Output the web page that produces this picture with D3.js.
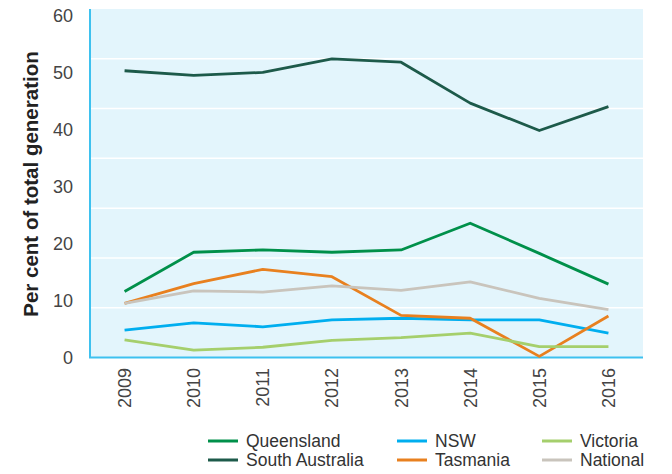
<!DOCTYPE html>
<html>
<head>
<meta charset="utf-8">
<script src="https://cdn.jsdelivr.net/npm/d3@7"></script>
<style>
  body { margin: 0; background: #fff; }
  svg text { font-family: "Liberation Sans", Arial, sans-serif; }
</style>
</head>
<body>
<main></main>
<script>
const years = ["2009", "2010", "2011", "2012", "2013", "2014", "2015", "2016"];
const yTicks = [0, 10, 20, 30, 40, 50, 60];

const queensland = [11.6, 18.5, 18.9, 18.5, 18.9, 23.6, 18.3, 12.9];
const southAustralia = [50.4, 49.6, 50.1, 52.5, 51.9, 44.7, 39.9, 44.1];
const nsw = [4.8, 6.1, 5.4, 6.6, 6.9, 6.6, 6.6, 4.3];
const tasmania = [9.5, 13.0, 15.5, 14.2, 7.4, 6.9, 0.2, 7.3];
const victoria = [3.1, 1.3, 1.8, 3.0, 3.5, 4.3, 1.9, 1.9];
const national = [9.5, 11.7, 11.5, 12.6, 11.8, 13.3, 10.4, 8.4];

const series = [
    { name: "Queensland", values: queensland, color: "#00904a" },
    { name: "South Australia", values: southAustralia, color: "#1d5a4a" },
    { name: "NSW", values: nsw, color: "#00aeef" },
    { name: "Tasmania", values: tasmania, color: "#e8801f" },
    { name: "Victoria", values: victoria, color: "#a5cf6c" },
    { name: "National", values: national, color: "#c9c4bc" }
];

// legend order, row by row
const legendOrder = ["Queensland", "NSW", "Victoria", "South Australia", "Tasmania", "National"];

const width = 672;
const height = 474;
const plotLeft = 90, plotRight = 643, plotTop = 9, plotBottom = 357.5;

const svg = d3.select("main")
    .append("svg")
    .attr("width", width)
    .attr("height", height);

const xScale = d3.scalePoint()
    .domain(years)
    .range([plotLeft, plotRight])
    .padding(0.5);

const yScale = d3.scaleLinear()
    .domain([0, 61.25])
    .range([plotBottom, plotTop]);

// plot background
svg.append("rect")
    .attr("x", plotLeft)
    .attr("y", plotTop)
    .attr("width", plotRight - plotLeft)
    .attr("height", plotBottom - plotTop)
    .attr("fill", "#e3f5fc");

// white gridlines (every 8.75 units, as in the source)
const gridVals = d3.range(1, 7).map(i => i * 8.75);
svg.selectAll(".grid")
    .data(gridVals)
    .enter()
    .append("line")
    .attr("x1", plotLeft)
    .attr("x2", plotRight)
    .attr("y1", d => yScale(d))
    .attr("y2", d => yScale(d))
    .attr("stroke", "#ffffff")
    .attr("stroke-width", 1.5);

// axes lines
svg.append("line")
    .attr("x1", plotLeft).attr("x2", plotLeft)
    .attr("y1", plotTop).attr("y2", plotBottom)
    .attr("stroke", "#3ec1ef").attr("stroke-width", 2);
svg.append("line")
    .attr("x1", plotLeft - 1).attr("x2", plotRight)
    .attr("y1", plotBottom).attr("y2", plotBottom)
    .attr("stroke", "#3ec1ef").attr("stroke-width", 2);

// y tick labels
svg.selectAll(".ylab")
    .data(yTicks)
    .enter()
    .append("text")
    .attr("x", 73)
    .attr("y", d => yScale(d))
    .attr("dy", "0.35em")
    .attr("text-anchor", "end")
    .attr("fill", "#444")
    .style("font-size", "18px")
    .text(d => d);

// x tick labels, rotated
svg.selectAll(".xlab")
    .data(years)
    .enter()
    .append("text")
    .attr("transform", d => `translate(${xScale(d) + 6.5}, 368) rotate(-90)`)
    .attr("text-anchor", "end")
    .attr("fill", "#444")
    .style("font-size", "18px")
    .text(d => d);

// y axis title
svg.append("text")
    .attr("transform", "translate(38, 184) rotate(-90)")
    .attr("text-anchor", "middle")
    .attr("fill", "#222")
    .style("font-size", "20.5px")
    .style("font-weight", "bold")
    .text("Per cent of total generation");

// lines
const line = d3.line()
    .x((d, i) => xScale(years[i]))
    .y(d => yScale(d));

svg.selectAll(".series")
    .data(series)
    .enter()
    .append("path")
    .attr("class", "series")
    .attr("d", d => line(d.values))
    .attr("fill", "none")
    .attr("stroke", d => d.color)
    .attr("stroke-width", 2.8)
    .attr("stroke-linejoin", "round");

// legend
const colX = [208, 397, 542];
const rowY = [441, 460];
const legend = svg.selectAll(".legend")
    .data(legendOrder)
    .enter()
    .append("g")
    .attr("transform", (d, i) => `translate(${colX[i % 3]}, ${rowY[Math.floor(i / 3)]})`);

legend.append("line")
    .attr("x1", 0).attr("x2", 30)
    .attr("y1", 0).attr("y2", 0)
    .attr("stroke", d => series.find(s => s.name === d).color)
    .attr("stroke-width", 3);

legend.append("text")
    .attr("x", 38)
    .attr("y", 0)
    .attr("dy", "0.35em")
    .attr("fill", "#333")
    .style("font-size", "17.5px")
    .text(d => d);
</script>
</body>
</html>
